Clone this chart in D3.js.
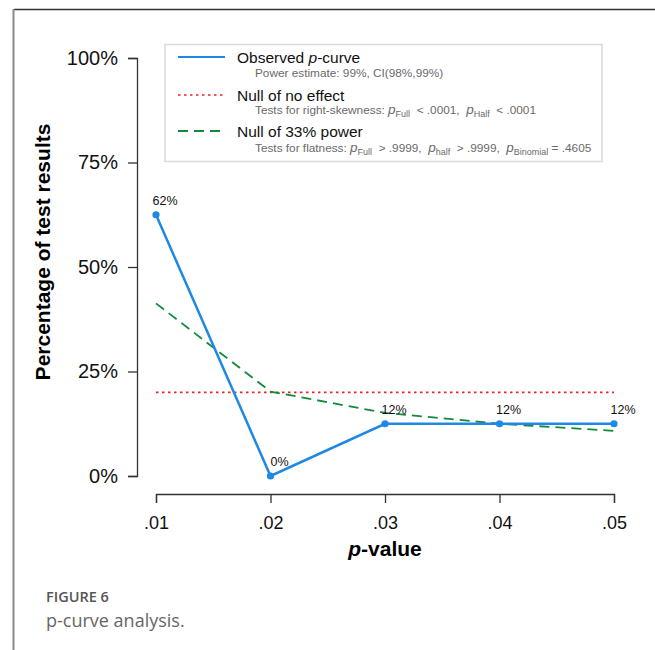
<!DOCTYPE html>
<html>
  <head>
    <title>p-curve</title>
    <style>
      body { margin: 0; background: #fff; }
      svg { font-family: "Liberation Sans", Arial, sans-serif; }
      .tick text { font-size: 18px; fill: #111; }
      .y .tick text { font-size: 20px; }
      .axis path, .axis line { stroke: #333; stroke-width: 1.3; }
      .sub { font-size: 11.8px; fill: #6a6a6a; white-space: pre; }
      .leg { font-size: 15.5px; fill: #111; }
    </style>
    <script src="https://d3js.org/d3.v7.min.js"></script>
  </head>
  <body>
    <div id="chart"></div>
    <script>
// data
var pValues = [0.01, 0.02, 0.03, 0.04, 0.05];
var xTickLabels = [".01", ".02", ".03", ".04", ".05"];
var observed = [62.5, 0, 12.5, 12.5, 12.5];
var observedLabels = ["62%", "0%", "12%", "12%", "12%"];
var nullNoEffect = [20, 20, 20, 20, 20];
var null33 = [41.3, 20.2, 15.1, 12.5, 10.8];
var yTicks = [0, 25, 50, 75, 100];

var W = 655, H = 650;

var svg = d3.select("#chart").append("svg")
  .attr("width", W)
  .attr("height", H);

// page frame
svg.append("line").attr("x1", 14).attr("x2", W).attr("y1", 9.5).attr("y2", 9.5)
  .attr("stroke", "#333").attr("stroke-width", 1.5);
svg.append("line").attr("x1", 13.5).attr("x2", 13.5).attr("y1", 9).attr("y2", H)
  .attr("stroke", "#8a8a8a").attr("stroke-width", 2);

// scales
var x = d3.scaleLinear().domain([0.01, 0.05]).range([156, 614]);
var y = d3.scaleLinear().domain([0, 100]).range([476, 58]);

// axes
var xAxis = d3.axisBottom(x).tickValues(pValues)
  .tickFormat((d, i) => xTickLabels[i]).tickSize(9).tickPadding(13).tickSizeOuter(9);
var yAxis = d3.axisLeft(y).tickValues(yTicks)
  .tickFormat(d => d + "%").tickSize(9).tickPadding(10).tickSizeOuter(9);

svg.append("g").attr("class", "x axis")
  .attr("transform", "translate(0,494)")
  .call(xAxis);
svg.append("g").attr("class", "y axis")
  .attr("transform", "translate(137,0)")
  .call(yAxis);

// axis titles
var xt = svg.append("text")
  .attr("x", 385).attr("y", 556)
  .attr("text-anchor", "middle")
  .style("font-size", "21px").style("font-weight", "bold");
xt.append("tspan").style("font-style", "italic").text("p");
xt.append("tspan").text("-value");

svg.append("text")
  .attr("transform", "translate(50,252) rotate(-90)")
  .attr("text-anchor", "middle")
  .style("font-size", "21px").style("font-weight", "bold")
  .text("Percentage of test results");

// lines
var line = d3.line()
  .x((d, i) => x(pValues[i]))
  .y(d => y(d));

svg.append("path").datum(nullNoEffect)
  .attr("d", line).attr("fill", "none")
  .attr("stroke", "#f2202a").attr("stroke-width", 1.6)
  .attr("stroke-dasharray", "2.5,3.5");

svg.append("path").datum(null33)
  .attr("d", line).attr("fill", "none")
  .attr("stroke", "#138a3a").attr("stroke-width", 1.8)
  .attr("stroke-dasharray", "10,6");

svg.append("path").datum(observed)
  .attr("d", line).attr("fill", "none")
  .attr("stroke", "#1e88e5").attr("stroke-width", 2.5);

svg.selectAll(".pt").data(observed).enter()
  .append("circle").attr("class", "pt")
  .attr("cx", (d, i) => x(pValues[i]))
  .attr("cy", d => y(d))
  .attr("r", 3.6)
  .attr("fill", "#1e88e5");

svg.selectAll(".lab").data(observed).enter()
  .append("text").attr("class", "lab")
  .attr("x", (d, i) => x(pValues[i]) + 9)
  .attr("y", d => y(d) - 10)
  .attr("text-anchor", "middle")
  .style("font-size", "12.5px").style("fill", "#111")
  .text((d, i) => observedLabels[i]);

// legend
svg.append("rect")
  .attr("x", 165).attr("y", 44.5).attr("width", 437).attr("height", 117)
  .attr("fill", "#fff").attr("stroke", "#dadada").attr("stroke-width", 1.5);

var legend = [
  {y: 57, color: "#1e88e5", dash: null, width: 2, title: [["Observed ", false], ["p", true], ["-curve", false]]},
  {y: 95, color: "#f2202a", dash: "2.5,3.5", width: 1.6, title: [["Null of no effect", false]]},
  {y: 131, color: "#138a3a", dash: "10,6", width: 1.8, title: [["Null of 33% power", false]]}
];
legend.forEach(function(l) {
  svg.append("line")
    .attr("x1", 178).attr("x2", 225).attr("y1", l.y).attr("y2", l.y)
    .attr("stroke", l.color).attr("stroke-width", l.width)
    .attr("stroke-dasharray", l.dash);
  var t = svg.append("text").attr("class", "leg")
    .attr("x", 237).attr("y", l.y + 5.5);
  l.title.forEach(function(p) {
    t.append("tspan").style("font-style", p[1] ? "italic" : "normal").text(p[0]);
  });
});

// legend sub lines: [text, italic p, subscript] pieces
function subLine(yy, parts) {
  var t = svg.append("text").attr("class", "sub").attr("x", 255).attr("y", yy);
  parts.forEach(function(p) {
    if (p.p) {
      t.append("tspan").style("font-style", "italic").style("font-size", "13.5px").text("p");
      t.append("tspan").attr("dy", 2.5).style("font-size", "9px").text(p.p);
      t.append("tspan").attr("dy", -2.5).text(p.t);
    } else {
      t.append("tspan").text(p.t);
    }
  });
}
subLine(77, [{t: "Power estimate: 99%, CI(98%,99%)"}]);
subLine(114, [{t: "Tests for right-skewness: "}, {p: "Full", t: "  < .0001,  "}, {p: "Half", t: "  < .0001"}]);
subLine(152, [{t: "Tests for flatness: "}, {p: "Full", t: "  > .9999,  "}, {p: "half", t: "  > .9999,  "}, {p: "Binomial", t: " = .4605"}]);

// caption
svg.append("text")
  .attr("x", 46).attr("y", 602)
  .style("font-family", "'Open Sans', sans-serif")
  .style("font-size", "14.5px").style("font-weight", "600").style("fill", "#555")
  .text("FIGURE 6");
svg.append("text")
  .attr("x", 46).attr("y", 627)
  .style("font-family", "'Open Sans', sans-serif")
  .style("font-size", "18px").style("fill", "#666")
  .text("p-curve analysis.");
    </script>
  </body>
</html>
